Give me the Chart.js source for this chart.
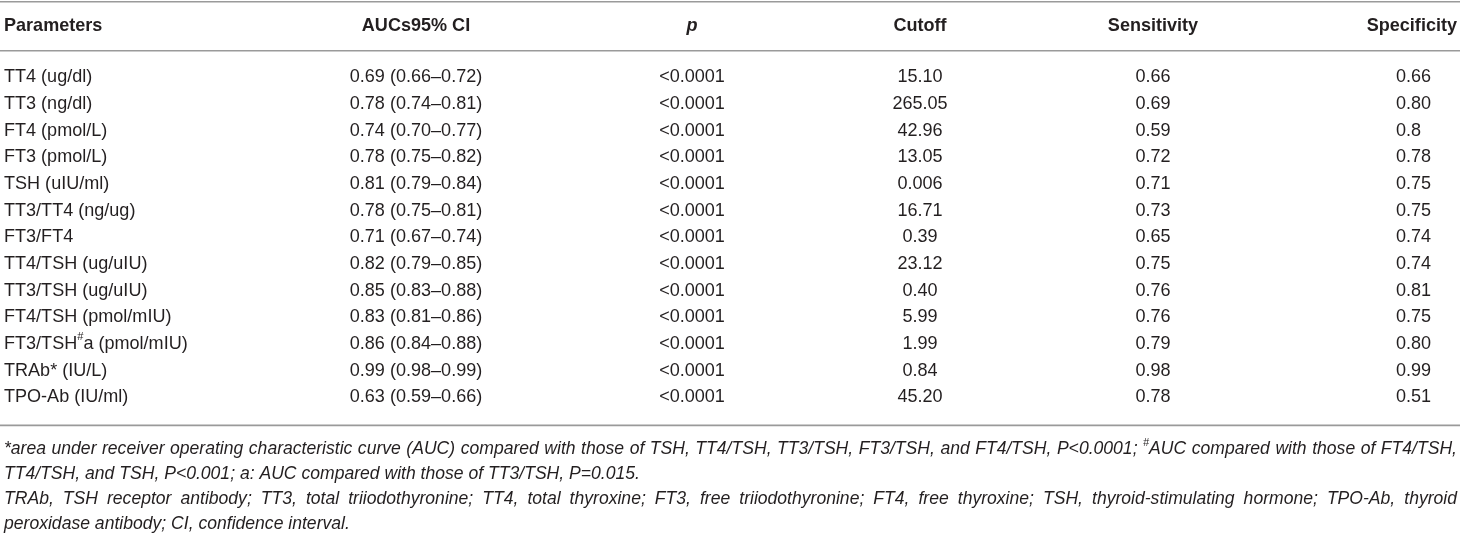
<!DOCTYPE html>
<html>
<head>
<meta charset="utf-8">
<script src="https://cdn.jsdelivr.net/npm/chart.js@4.4.1/dist/chart.umd.min.js"></script>
<style>
  html, body { margin: 0; padding: 0; background: #fff; }
  #wrap { width: 1460px; height: 538px; position: relative; }
</style>
</head>
<body>
<div id="wrap"><canvas id="table-chart"></canvas></div>
<script>
// Table values
const columns = ['Parameters', 'AUCs95% CI', 'p', 'Cutoff', 'Sensitivity', 'Specificity'];
const parameters = [
    'TT4 (ug/dl)', 'TT3 (ng/dl)', 'FT4 (pmol/L)', 'FT3 (pmol/L)', 'TSH (uIU/ml)',
    'TT3/TT4 (ng/ug)', 'FT3/FT4', 'TT4/TSH (ug/uIU)', 'TT3/TSH (ug/uIU)',
    'FT4/TSH (pmol/mIU)', 'FT3/TSH^#a (pmol/mIU)', 'TRAb* (IU/L)', 'TPO-Ab (IU/ml)'
];
const aucCI = [
    '0.69 (0.66–0.72)', '0.78 (0.74–0.81)', '0.74 (0.70–0.77)', '0.78 (0.75–0.82)',
    '0.81 (0.79–0.84)', '0.78 (0.75–0.81)', '0.71 (0.67–0.74)', '0.82 (0.79–0.85)',
    '0.85 (0.83–0.88)', '0.83 (0.81–0.86)', '0.86 (0.84–0.88)', '0.99 (0.98–0.99)',
    '0.63 (0.59–0.66)'
];
const pValues = [
    '<0.0001', '<0.0001', '<0.0001', '<0.0001', '<0.0001', '<0.0001', '<0.0001',
    '<0.0001', '<0.0001', '<0.0001', '<0.0001', '<0.0001', '<0.0001'
];
const cutoffs = ['15.10', '265.05', '42.96', '13.05', '0.006', '16.71', '0.39', '23.12', '0.40', '5.99', '1.99', '0.84', '45.20'];
const sensitivity = ['0.66', '0.69', '0.59', '0.72', '0.71', '0.73', '0.65', '0.75', '0.76', '0.76', '0.79', '0.98', '0.78'];
const specificity = ['0.66', '0.80', '0.8', '0.78', '0.75', '0.75', '0.74', '0.74', '0.81', '0.75', '0.80', '0.99', '0.51'];
const footnotes = [
    '*area under receiver operating characteristic curve (AUC) compared with those of TSH, TT4/TSH, TT3/TSH, FT3/TSH, and FT4/TSH, P<0.0001; ^#AUC compared with those of FT4/TSH,',
    'TT4/TSH, and TSH, P<0.001; a: AUC compared with those of TT3/TSH, P=0.015.',
    'TRAb, TSH receptor antibody; TT3, total triiodothyronine; TT4, total thyroxine; FT3, free triiodothyronine; FT4, free thyroxine; TSH, thyroid-stimulating hormone; TPO-Ab, thyroid',
    'peroxidase antibody; CI, confidence interval.'
];
const justifiedNotes = [true, false, true, false];

// Layout / style (not data)
const FONT = '"Liberation Sans", Arial, sans-serif';
const TEXT_COLOR = '#231f20';
const RULE_COLOR = '#9a9a9a';
const SX = 0.95;           // slight horizontal squeeze, the source font is condensed
const colLayout = [
    { x: 4,    align: 'left',   headAlign: 'left' },
    { x: 416,  align: 'center', headAlign: 'center' },
    { x: 692,  align: 'center', headAlign: 'center' },
    { x: 920,  align: 'center', headAlign: 'center' },
    { x: 1153, align: 'center', headAlign: 'center' },
    { x: 1396, align: 'left',   headAlign: 'right', headX: 1457 }
];
const tableLeft = 0, tableRight = 1460;

function splitRich(text) {
    const parts = [];
    const re = /\^(.)/g;
    let last = 0, m;
    while ((m = re.exec(text)) !== null) {
        if (m.index > last) parts.push({ t: text.slice(last, m.index), sup: false });
        parts.push({ t: m[1], sup: true });
        last = re.lastIndex;
    }
    if (last < text.length) parts.push({ t: text.slice(last), sup: false });
    return parts;
}

function measureRich(ctx, text, size, style) {
    let w = 0;
    splitRich(text).forEach(p => {
        ctx.font = style + ' ' + (p.sup ? size * 0.62 : size) + 'px ' + FONT;
        w += ctx.measureText(p.t).width * SX;
    });
    return w;
}

// draw a string with "^#" superscript markers
function drawRich(ctx, text, x, y, align, size, style) {
    const parts = splitRich(text);
    const total = measureRich(ctx, text, size, style);
    let cx = x;
    if (align === 'center') cx = x - total / 2;
    else if (align === 'right') cx = x - total;
    ctx.textAlign = 'left';
    ctx.textBaseline = 'middle';
    parts.forEach(p => {
        ctx.font = style + ' ' + (p.sup ? size * 0.62 : size) + 'px ' + FONT;
        const w = ctx.measureText(p.t).width * SX;
        ctx.save();
        ctx.translate(cx, p.sup ? y - size * 0.38 : y);
        ctx.scale(SX, 1);
        ctx.fillText(p.t, 0, 0);
        ctx.restore();
        cx += w;
    });
    return total;
}

const tablePlugin = {
    id: 'tablePlugin',
    afterDraw(chart) {
        const ctx = chart.ctx;
        const xs = chart.scales.x;
        const ys = chart.scales.y;
        const band = ys.getPixelForValue(1) - ys.getPixelForValue(0);
        const firstRow = ys.getPixelForValue(0);
        const lastRow = ys.getPixelForValue(parameters.length - 1);
        const size = 19;

        ctx.save();
        ctx.fillStyle = TEXT_COLOR;

        // rules
        ctx.strokeStyle = RULE_COLOR;
        ctx.lineWidth = 1.6;
        const rules = [firstRow - 2.82 * band, firstRow - 0.98 * band, lastRow + 1.06 * band];
        rules.forEach(y => {
            ctx.beginPath();
            ctx.moveTo(xs.getPixelForValue(tableLeft), y);
            ctx.lineTo(xs.getPixelForValue(tableRight), y);
            ctx.stroke();
        });

        // header
        const headY = firstRow - 1.9 * band;
        columns.forEach((c, i) => {
            const L = colLayout[i];
            const hx = xs.getPixelForValue(L.headX !== undefined ? L.headX : L.x);
            drawRich(ctx, c, hx, headY, L.headAlign, size, c === 'p' ? 'italic bold' : 'bold');
        });

        // body cells
        const cols = [parameters, aucCI, pValues, cutoffs, sensitivity, specificity];
        cols.forEach((vals, i) => {
            const L = colLayout[i];
            vals.forEach((v, r) => {
                drawRich(ctx, v, xs.getPixelForValue(L.x), ys.getPixelForValue(r), L.align, size, 'normal');
            });
        });

        // footnotes
        const noteSize = 18.5;
        const noteLeft = xs.getPixelForValue(4);
        const noteRight = xs.getPixelForValue(1457);
        footnotes.forEach((line, k) => {
            const y = lastRow + 1.96 * band + k * 0.935 * band;
            if (!justifiedNotes[k]) {
                drawRich(ctx, line, noteLeft, y, 'left', noteSize, 'italic');
                return;
            }
            const words = line.split(' ');
            const widths = words.map(w => measureRich(ctx, w, noteSize, 'italic'));
            const sum = widths.reduce((a, b) => a + b, 0);
            const gap = (noteRight - noteLeft - sum) / (words.length - 1);
            let cx = noteLeft;
            words.forEach((w, j) => {
                drawRich(ctx, w, cx, y, 'left', noteSize, 'italic');
                cx += widths[j] + gap;
            });
        });
        ctx.restore();
    }
};

new Chart(document.getElementById('table-chart'), {
    type: 'scatter',
    data: {
        labels: parameters,
        datasets: []
    },
    options: {
        responsive: true,
        maintainAspectRatio: false,
        animation: false,
        layout: { padding: { top: 63.6, bottom: 127.6, left: 0, right: 0 } },
        plugins: { legend: { display: false }, tooltip: { enabled: false } },
        scales: {
            x: { type: 'linear', min: 0, max: 1460, display: false },
            y: { type: 'category', labels: parameters, offset: true, display: false }
        }
    },
    plugins: [tablePlugin]
});
</script>
</body>
</html>
